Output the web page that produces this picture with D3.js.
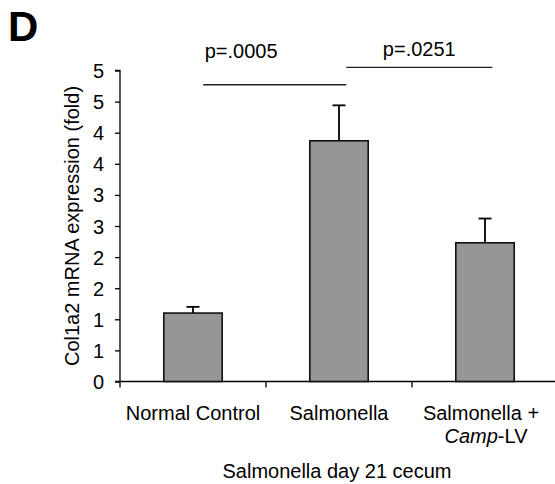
<!DOCTYPE html>
<html>
<head>
<meta charset="utf-8">
<script src="https://cdn.jsdelivr.net/npm/d3@7"></script>
<style>
  body { margin: 0; background: #fff; }
  text { font-family: Arial, "Liberation Sans", sans-serif; fill: #000; }
</style>
</head>
<body>
<div id="chart"></div>
<script>
// data
const groups = ["Normal Control", "Salmonella", "Salmonella + Camp-LV"];
const means = [1.10, 3.87, 2.23];
const errors = [0.10, 0.57, 0.39];
const yTicks = [0, 0.5, 1, 1.5, 2, 2.5, 3, 3.5, 4, 4.5, 5];
const yTickLabels = ["0", "1", "1", "2", "2", "3", "3", "4", "4", "5", "5"];
// significance brackets (positions in category units)
const sigFrom = [0.57, 1.55];
const sigTo = [1.55, 2.55];
const sigLevel = [4.77, 5.05];
const sigText = ["p=.0005", "p=.0251"];
const sigTextX = [0.83, 2.05];

const width = 555, height = 484;
const fs = "20px";
const svg = d3.select("#chart").append("svg")
    .attr("width", width)
    .attr("height", height);

const x = d3.scaleBand()
    .domain(groups)
    .range([120, 558])
    .paddingInner(0.6)
    .paddingOuter(0.3);
// continuous category coordinate for brackets
const xc = d3.scaleLinear().domain([0, 3]).range([120, 558]);

const y = d3.scaleLinear()
    .domain([0, 5])
    .range([381.5, 70.5]);

// panel letter
svg.append("text")
    .attr("x", 8)
    .attr("y", 41)
    .style("font-size", "42px")
    .style("font-weight", "bold")
    .text("D");

// y axis
const yAxis = d3.axisLeft(y)
    .tickValues(yTicks)
    .tickSize(5)
    .tickPadding(11)
    .tickFormat((d, i) => yTickLabels[i]);
const gy = svg.append("g")
    .attr("transform", "translate(120,0)")
    .call(yAxis);
gy.select(".domain").attr("stroke", "#000").attr("stroke-width", 1.3)
    .attr("d", "M-5," + y(5) + "H0V" + (y(0) + 6));
gy.selectAll(".tick line").attr("stroke", "#000").attr("stroke-width", 1.3);
gy.selectAll(".tick text")
    .style("font-size", fs)
    .attr("dy", "0.35em")
    .attr("font-family", null);

// x axis line with ticks between categories
svg.append("line")
    .attr("x1", 115).attr("x2", 558)
    .attr("y1", y(0)).attr("y2", y(0))
    .attr("stroke", "#000").attr("stroke-width", 1.3);
svg.selectAll(".xtick")
    .data([1, 2])
    .enter().append("line")
    .attr("x1", d => xc(d)).attr("x2", d => xc(d))
    .attr("y1", y(0)).attr("y2", y(0) + 6)
    .attr("stroke", "#000").attr("stroke-width", 1.3);

// bars
svg.selectAll(".bar")
    .data(groups)
    .enter().append("rect")
    .attr("x", d => x(d))
    .attr("width", x.bandwidth())
    .attr("y", (d, i) => y(means[i]))
    .attr("height", (d, i) => y(0) - y(means[i]))
    .attr("fill", "#969696")
    .attr("stroke", "#111")
    .attr("stroke-width", 1.6);

// error bars (upper only)
const eb = svg.selectAll(".err")
    .data(groups)
    .enter().append("g");
eb.append("line")
    .attr("x1", d => x(d) + x.bandwidth() / 2)
    .attr("x2", d => x(d) + x.bandwidth() / 2)
    .attr("y1", (d, i) => y(means[i]))
    .attr("y2", (d, i) => y(means[i] + errors[i]))
    .attr("stroke", "#000").attr("stroke-width", 1.8);
eb.append("line")
    .attr("x1", d => x(d) + x.bandwidth() / 2 - 6.5)
    .attr("x2", d => x(d) + x.bandwidth() / 2 + 6.5)
    .attr("y1", (d, i) => y(means[i] + errors[i]))
    .attr("y2", (d, i) => y(means[i] + errors[i]))
    .attr("stroke", "#000").attr("stroke-width", 1.8);

// significance lines
svg.selectAll(".sig")
    .data(sigText)
    .enter().append("line")
    .attr("x1", (d, i) => xc(sigFrom[i]))
    .attr("x2", (d, i) => xc(sigTo[i]))
    .attr("y1", (d, i) => y(sigLevel[i]))
    .attr("y2", (d, i) => y(sigLevel[i]))
    .attr("stroke", "#222").attr("stroke-width", 1.4);
svg.selectAll(".sigtext")
    .data(sigText)
    .enter().append("text")
    .attr("x", (d, i) => xc(sigTextX[i]))
    .attr("y", (d, i) => i === 0 ? 58 : 56)
    .attr("text-anchor", "middle")
    .style("font-size", fs)
    .text(d => d);

// category labels
const catX = d => x(d) + x.bandwidth() / 2;
svg.append("text")
    .attr("x", catX(groups[0])).attr("y", 420)
    .attr("text-anchor", "middle")
    .style("font-size", fs)
    .text(groups[0]);
svg.append("text")
    .attr("x", catX(groups[1])).attr("y", 420)
    .attr("text-anchor", "middle")
    .style("font-size", fs)
    .text(groups[1]);
svg.append("text")
    .attr("x", catX(groups[2]) - 4).attr("y", 420)
    .attr("text-anchor", "middle")
    .style("font-size", fs)
    .text("Salmonella +");
const t2 = svg.append("text")
    .attr("x", catX(groups[2]) + 1).attr("y", 443)
    .attr("text-anchor", "middle")
    .style("font-size", fs);
t2.append("tspan").style("font-style", "italic").text("Camp");
t2.append("tspan").text("-LV");

// x axis title
svg.append("text")
    .attr("x", 337).attr("y", 478)
    .attr("text-anchor", "middle")
    .style("font-size", fs)
    .text("Salmonella day 21 cecum");

// y axis title
svg.append("text")
    .attr("transform", "translate(79,226) rotate(-90)")
    .attr("text-anchor", "middle")
    .style("font-size", fs)
    .text("Col1a2 mRNA expression (fold)");
</script>
</body>
</html>
